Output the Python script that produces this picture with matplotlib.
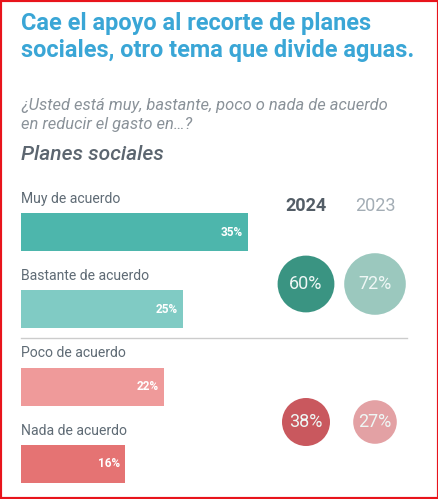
import matplotlib
matplotlib.use("Agg")
import matplotlib.pyplot as plt
from matplotlib.patches import Rectangle

plt.rcParams['font.family'] = ['Roboto', 'DejaVu Sans']

# ---- data ----
categories = ["Muy de acuerdo", "Bastante de acuerdo", "Poco de acuerdo", "Nada de acuerdo"]
values = [35, 25, 22, 16]
value_labels = ["35%", "25%", "22%", "16%"]
years = ["2024", "2023"]
totals_2024 = [60, 38]
totals_2023 = [72, 27]
title = "Cae el apoyo al recorte de planes\nsociales, otro tema que divide aguas."
subtitle = "¿Usted está muy, bastante, poco o nada de acuerdo\nen reducir el gasto en…?"
section = "Planes sociales"

bar_colors = ["#4db6ac", "#80cbc4", "#ef9a9a", "#e57373"]
circ_2024 = ["#3a9482", "#c9585e"]
circ_2023 = ["#9bc8be", "#e3a1a4"]

W, H = 439, 499
fig = plt.figure(figsize=(W / 100, H / 100), dpi=100)
fig.patch.set_facecolor("white")

def px2pt(p):
    return p * 0.72

# ---- bar axes ----
left_px, right_px = 21, 407
top_px, bot_px = 150, 490
c0, step = 232, 77.33
ax = fig.add_axes([left_px / W, 1 - bot_px / H, (right_px - left_px) / W, (bot_px - top_px) / H])
ax.set_xlim(0, (right_px - left_px) / 6.49)
ax.set_ylim(3 + (bot_px - (c0 + 3 * step)) / step, -(c0 - top_px) / step)
ax.axis("off")
ypos = list(range(len(categories)))
ax.barh(ypos, values, height=38 / step, color=bar_colors, edgecolor="none")
for y, v, lab, cat in zip(ypos, values, value_labels, categories):
    ax.text(v - 0.8, y, lab, ha="right", va="center", color="white",
            fontsize=8.5, fontweight="bold")
    ax.text(0, y - 0.43, cat, ha="left", va="center", color="#5f6b75",
            fontsize=px2pt(14))
sep_y = 1 + (338 - (c0 + step)) / step
ax.plot([0, ax.get_xlim()[1]], [sep_y, sep_y], color="#cccccc", lw=1, clip_on=False)

# ---- overlay axes in pixel coordinates ----
ov = fig.add_axes([0, 0, 1, 1])
ov.set_xlim(0, W)
ov.set_ylim(H, 0)
ov.axis("off")

ov.text(21, 37, title, ha="left", va="center", color="#3aa6d6",
        fontsize=px2pt(23.5), fontweight="bold", linespacing=1.25)
ov.text(21, 115, subtitle, ha="left", va="center", color="#8a9299",
        fontsize=px2pt(16.5), style="italic", linespacing=1.3)
ov.text(21, 155, section, ha="left", va="center", color="#5c6670",
        fontsize=px2pt(21), style="italic", fontweight="medium")

col_x = [306, 375]
row_y = [284, 422]
ov.text(col_x[0], 206, years[0], ha="center", va="center", color="#535d66",
        fontsize=px2pt(18), fontweight="bold")
ov.text(col_x[1], 206, years[1], ha="center", va="center", color="#a3adb5",
        fontsize=px2pt(18))

def radius(v):
    return 16.4 + 0.2 * v

for j, (vals, cols) in enumerate([(totals_2024, circ_2024), (totals_2023, circ_2023)]):
    for i, v in enumerate(vals):
        d_pt = px2pt(2 * radius(v))
        ov.scatter([col_x[j]], [row_y[i]], s=d_pt ** 2, color=cols[i],
                   edgecolors="none", zorder=3)
        ov.text(col_x[j], row_y[i], f"{v}%", ha="center", va="center",
                color="#eef7f5", fontsize=px2pt(18), zorder=4)

# red frame
fig.patches.append(Rectangle((0, 0), 1, 1, transform=fig.transFigure,
                             fill=False, edgecolor="#e8141c", lw=3))

fig.savefig("out.png", dpi=100, facecolor="white")
